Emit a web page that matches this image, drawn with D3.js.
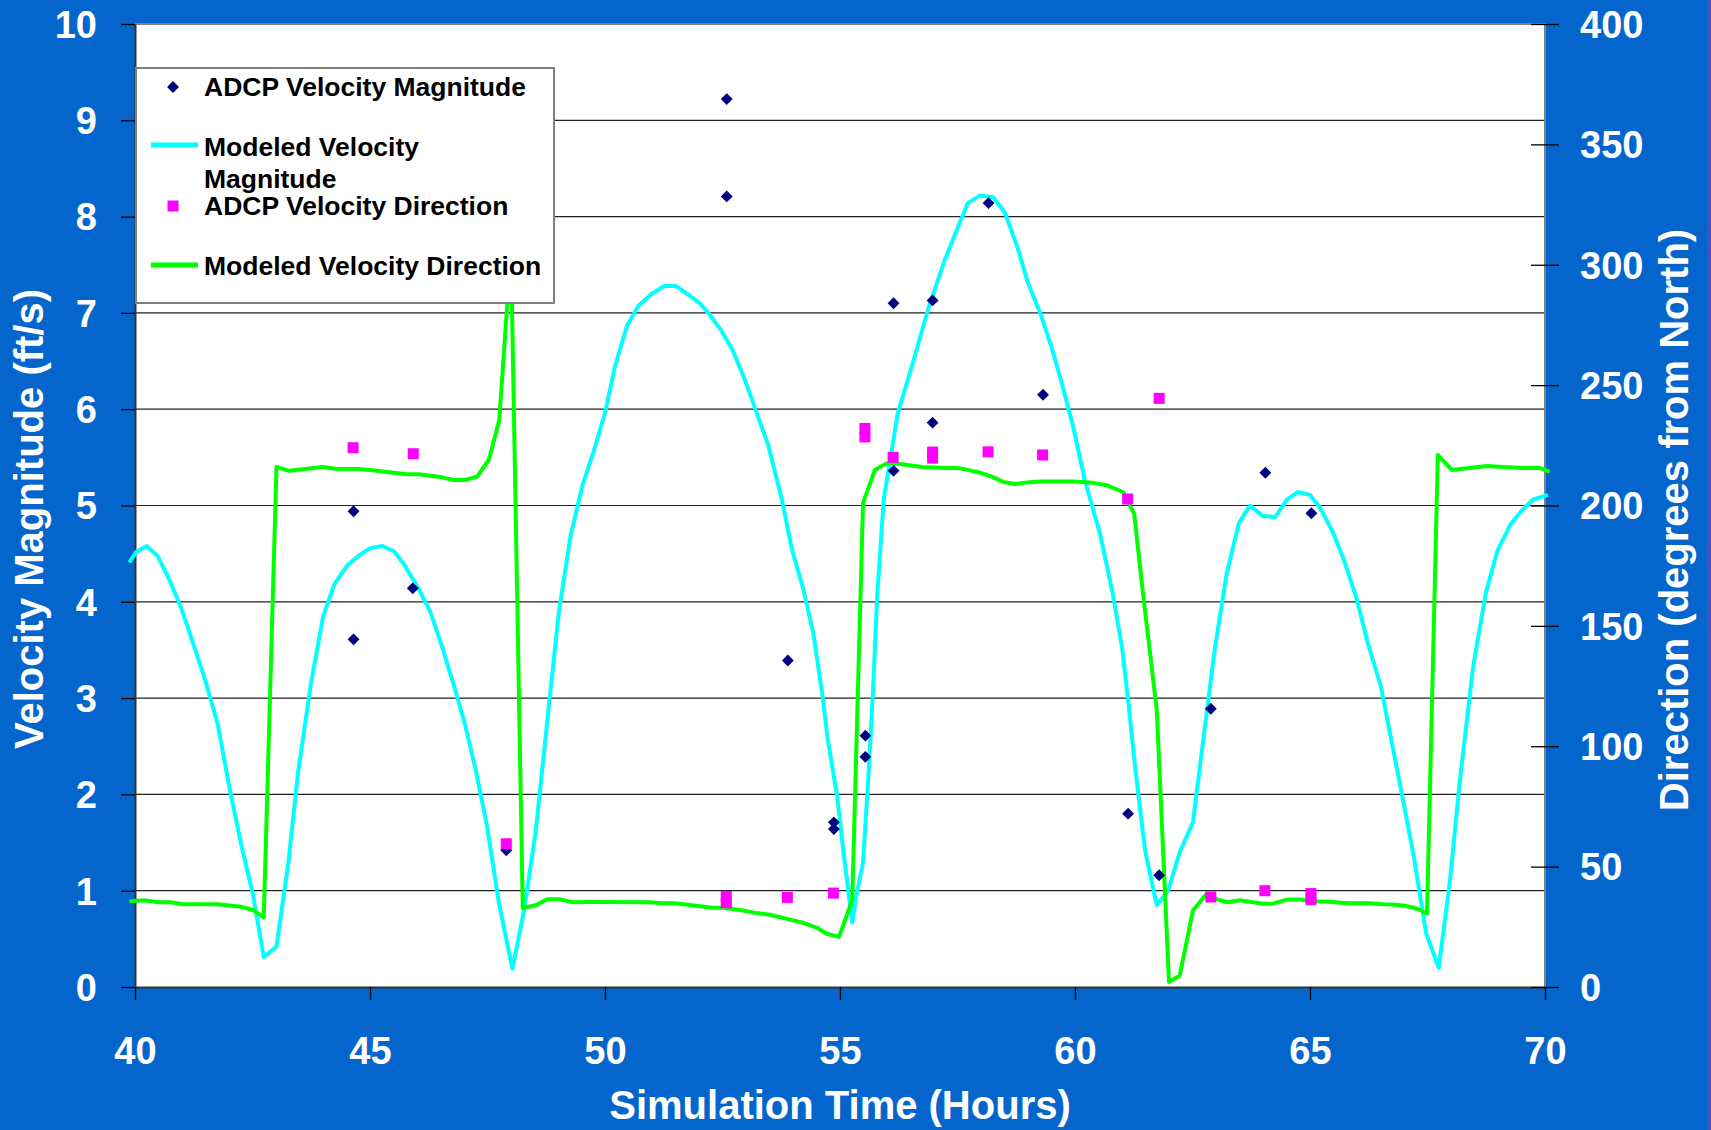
<!DOCTYPE html>
<html>
<head>
<meta charset="utf-8">
<script src="https://d3js.org/d3.v7.min.js"></script>
<style>
  body { margin: 0; background: #0466cc; overflow: hidden; }
  text { font-family: "Liberation Sans", Arial, sans-serif; font-weight: bold; }
</style>
</head>
<body>
<div id="chart"></div>
<script>
// tick values
const hourTicks = [40, 45, 50, 55, 60, 65, 70];
const magTicks = [0, 1, 2, 3, 4, 5, 6, 7, 8, 9, 10];
const dirTicks = [0, 50, 100, 150, 200, 250, 300, 350, 400];

// modeled velocity magnitude [hour, ft/s]
const modelMagnitude = [
  [39.88,4.41],[40.03,4.52],[40.25,4.58],[40.49,4.47],[40.74,4.22],[40.98,3.94],[41.23,3.58],
  [41.51,3.16],[41.76,2.73],[42.01,2.07],[42.26,1.48],[42.51,0.96],[42.74,0.31],[43.01,0.42],
  [43.26,1.28],[43.47,2.23],[43.74,3.14],[44.0,3.84],[44.24,4.18],[44.52,4.38],[44.79,4.49],
  [45.02,4.56],[45.27,4.58],[45.52,4.52],[45.75,4.37],[46.03,4.14],[46.28,3.9],[46.53,3.54],
  [46.78,3.14],[47.02,2.73],[47.26,2.23],[47.49,1.67],[47.74,0.88],[48.03,0.19],[48.28,0.8],
  [48.53,1.63],[48.81,2.94],[49.02,3.9],[49.27,4.69],[49.52,5.21],[49.75,5.55],[50.0,5.96],
  [50.21,6.44],[50.47,6.87],[50.72,7.08],[51.0,7.2],[51.26,7.28],[51.51,7.28],[51.74,7.2],
  [52.02,7.1],[52.23,6.98],[52.47,6.82],[52.72,6.61],[52.98,6.3],[53.23,5.96],[53.47,5.63],
  [53.75,5.09],[53.98,4.54],[54.21,4.15],[54.43,3.68],[54.62,3.05],[54.74,2.57],[54.94,1.98],
  [55.06,1.46],[55.26,0.67],[55.36,0.98],[55.49,1.29],[55.6,2.15],[55.7,3.05],[55.79,4.05],
  [55.93,5.06],[56.23,5.96],[56.55,6.48],[56.87,7.03],[57.23,7.55],[57.51,7.89],[57.72,8.14],
  [57.98,8.22],[58.26,8.2],[58.51,8.04],[58.77,7.69],[59.0,7.31],[59.26,7.0],[59.51,6.63],
  [59.72,6.27],[59.96,5.82],[60.21,5.26],[60.53,4.71],[60.79,4.12],[61.0,3.53],[61.13,2.98],
  [61.28,2.28],[61.38,1.87],[61.49,1.42],[61.74,0.85],[61.98,1.0],[62.23,1.4],[62.51,1.71],
  [62.72,2.53],[62.98,3.53],[63.23,4.3],[63.49,4.82],[63.72,5.0],[64.0,4.89],[64.26,4.88],
  [64.51,5.06],[64.74,5.14],[65.0,5.11],[65.21,4.98],[65.49,4.72],[65.74,4.41],[66.0,4.02],
  [66.23,3.57],[66.51,3.12],[66.7,2.64],[66.98,1.94],[67.21,1.35],[67.47,0.56],[67.74,0.2],
  [67.98,1.11],[68.19,2.15],[68.47,3.32],[68.74,4.09],[68.98,4.52],[69.26,4.8],[69.51,4.95],
  [69.74,5.06],[70.06,5.11]
];

// modeled velocity direction [hour, degrees]
const modelDirection = [
  [39.88,35.6],[40.19,36.0],[40.51,35.2],[40.76,35.2],[41.01,34.4],[41.76,34.4],[42.26,33.3],
  [42.51,32.0],[42.74,28.9],[43.01,216.0],[43.28,214.4],[44.0,216.0],[44.29,215.2],[44.75,215.2],
  [45.04,214.6],[45.78,213.0],[46.03,213.0],[46.53,211.7],[46.78,210.6],[47.03,210.6],[47.28,212.0],
  [47.53,219.0],[47.75,235.5],[48.0,306.0],[48.25,32.8],[48.53,34.0],[48.78,36.5],[49.02,36.5],
  [49.31,35.2],[49.68,35.3],[50.96,35.2],[51.23,34.8],[51.49,34.8],[52.28,32.9],[52.51,32.9],
  [52.94,31.8],[53.23,30.7],[53.51,30.0],[53.94,28.0],[54.21,26.7],[54.51,24.6],[54.72,22.1],
  [54.98,20.8],[55.26,36.0],[55.49,201.0],[55.74,214.7],[56.0,217.6],[56.28,217.2],[56.74,216.0],
  [57.23,215.6],[57.51,215.6],[57.72,214.8],[57.98,213.6],[58.23,212.0],[58.47,209.8],[58.72,208.9],
  [58.98,209.6],[59.26,210.0],[59.96,210.0],[60.32,209.6],[60.68,208.4],[61.02,205.6],[61.26,196.5],
  [61.45,163.0],[61.74,114.9],[62.0,2.1],[62.23,4.8],[62.51,31.8],[62.79,38.5],[62.98,36.7],
  [63.23,35.2],[63.51,36.0],[64.0,34.6],[64.21,34.6],[64.51,36.3],[64.79,36.3],[65.06,35.6],
  [65.49,35.3],[65.79,34.8],[66.28,34.8],[66.53,34.4],[66.77,34.3],[67.06,33.6],[67.28,32.5],
  [67.49,30.5],[67.72,221.0],[68.02,214.7],[68.77,216.4],[69.11,216.0],[69.53,215.6],[69.89,215.6],
  [70.1,214.0]
];

// ADCP measurements
const adcpMagnitude = [
  [44.65,4.94],[44.65,3.61],[45.91,4.14],[47.9,1.42],[52.59,9.22],[52.59,8.21],[53.89,3.39],
  [54.87,1.71],[54.87,1.64],[55.54,2.61],[55.54,2.39],[56.14,7.1],[56.14,5.36],[56.97,7.13],
  [56.97,5.86],[58.16,8.14],[59.32,6.15],[61.13,1.8],[61.79,1.16],[62.89,2.89],[64.05,5.34],
  [65.03,4.92]
];
const adcpDirection = [
  [44.64,224],[45.92,221.5],[47.9,59.5],[52.58,37.6],[52.58,35],[53.88,37.2],[54.86,39],
  [55.53,232],[55.53,228.5],[56.13,220],[56.97,222.2],[56.97,219.7],[58.15,222.3],[59.31,221],
  [61.12,202.7],[61.79,244.5],[62.89,37.4],[64.04,40],[65.02,38.8],[65.02,36.3]
];

const legendLabels = ["ADCP Velocity Magnitude", "Modeled Velocity Magnitude",
                      "ADCP Velocity Direction", "Modeled Velocity Direction"];

var W = 1711, H = 1130;
var plot = {left: 135, top: 24, right: 1545, bottom: 987};

var svg = d3.select("#chart").append("svg")
  .attr("width", W).attr("height", H);

svg.append("rect").attr("width", W).attr("height", H).attr("fill", "#0466cc");
// thin purple strip on the right edge
svg.append("rect").attr("x", W - 4).attr("width", 4).attr("height", H).attr("fill", "#4a4cc0");

var x = d3.scaleLinear().domain([40, 70]).range([plot.left, plot.right]);
var yMag = d3.scaleLinear().domain([0, 10]).range([plot.bottom, plot.top]);
var yDir = d3.scaleLinear().domain([0, 400]).range([plot.bottom, plot.top]);

// plot area
svg.append("rect")
  .attr("x", plot.left).attr("y", plot.top)
  .attr("width", plot.right - plot.left).attr("height", plot.bottom - plot.top)
  .attr("fill", "#fff");

// gridlines
svg.append("g").selectAll("line")
  .data(magTicks.filter(d => d > 0 && d < 10))
  .enter().append("line")
  .attr("x1", plot.left).attr("x2", plot.right)
  .attr("y1", d => yMag(d)).attr("y2", d => yMag(d))
  .attr("stroke", "#222").attr("stroke-width", 1.2);

// frame top / right
svg.append("path")
  .attr("d", `M${plot.left},${plot.top}H${plot.right}V${plot.bottom}`)
  .attr("fill", "none").attr("stroke", "#808080").attr("stroke-width", 2);

function styleAxis(g) {
  g.selectAll("text").attr("fill", "#fff").style("font-size", "38px")
    .style("font-family", '"Liberation Sans", Arial, sans-serif').style("font-weight", "bold");
  g.selectAll("line").attr("stroke", "#000").attr("stroke-width", 1.3);
  g.select(".domain").attr("stroke", "#333").attr("stroke-width", 2);
}

// left axis
svg.append("g")
  .attr("transform", `translate(${plot.left},0)`)
  .call(d3.axisLeft(yMag).tickValues(magTicks).tickSizeInner(14).tickSizeOuter(0).tickPadding(24))
  .call(styleAxis)
  .selectAll("text").attr("dy", "0.35em");

// bottom axis
svg.append("g")
  .attr("transform", `translate(0,${plot.bottom})`)
  .call(d3.axisBottom(x).tickValues(hourTicks).tickSizeInner(13).tickSizeOuter(0).tickPadding(37))
  .call(styleAxis);

// right axis, ticks cross the frame
var rightAxis = svg.append("g")
  .attr("transform", `translate(${plot.right - 14},0)`)
  .call(d3.axisRight(yDir).tickValues(dirTicks).tickSizeInner(28).tickSizeOuter(0).tickPadding(21))
  .call(styleAxis);
rightAxis.select(".domain").remove();
rightAxis.selectAll("text").attr("dy", "0.35em");

// lines
var line = (yScale) => d3.line().x(d => x(d[0])).y(d => yScale(d[1]));

svg.append("path").datum(modelMagnitude)
  .attr("d", line(yMag))
  .attr("fill", "none").attr("stroke", "#00ffff").attr("stroke-width", 4)
  .attr("stroke-linejoin", "round");

svg.append("path").datum(modelDirection)
  .attr("d", line(yDir))
  .attr("fill", "none").attr("stroke", "#00ff00").attr("stroke-width", 4)
  .attr("stroke-linejoin", "round");

// markers
var diamond = d3.symbol().type(d3.symbolDiamond2).size(90);
svg.append("g").selectAll("path")
  .data(adcpMagnitude).enter().append("path")
  .attr("d", diamond)
  .attr("transform", d => `translate(${x(d[0])},${yMag(d[1])})`)
  .attr("fill", "#000080");

svg.append("g").selectAll("rect")
  .data(adcpDirection).enter().append("rect")
  .attr("x", d => x(d[0]) - 5.5).attr("y", d => yDir(d[1]) - 5.5)
  .attr("width", 11).attr("height", 11)
  .attr("fill", "#ff00ff");

// legend
var lg = svg.append("g");
lg.append("rect")
  .attr("x", 136).attr("y", 68).attr("width", 418).attr("height", 235)
  .attr("fill", "#fff").attr("stroke", "#808080").attr("stroke-width", 2);

lg.append("path").attr("d", diamond)
  .attr("transform", "translate(173,87)").attr("fill", "#000080");
lg.append("line").attr("x1", 151).attr("x2", 198).attr("y1", 145).attr("y2", 145)
  .attr("stroke", "#00ffff").attr("stroke-width", 5);
lg.append("rect").attr("x", 167.5).attr("y", 200.5).attr("width", 11).attr("height", 11)
  .attr("fill", "#ff00ff");
lg.append("line").attr("x1", 151).attr("x2", 198).attr("y1", 265).attr("y2", 265)
  .attr("stroke", "#00ff00").attr("stroke-width", 5);

var legendRows = [
  {t: legendLabels[0], y: 96},
  {t: "Modeled Velocity", y: 156},
  {t: "Magnitude", y: 188},
  {t: legendLabels[2], y: 215},
  {t: legendLabels[3], y: 275}
];
lg.selectAll("text.lbl").data(legendRows).enter().append("text")
  .attr("class", "lbl")
  .attr("x", 204).attr("y", d => d.y)
  .attr("fill", "#000").style("font-size", "26.5px")
  .text(d => d.t);

// axis titles
svg.append("text")
  .attr("transform", "translate(43,519) rotate(-90)")
  .attr("text-anchor", "middle").attr("fill", "#fff").style("font-size", "40px")
  .text("Velocity Magnitude (ft/s)");

svg.append("text")
  .attr("x", 840).attr("y", 1119)
  .attr("text-anchor", "middle").attr("fill", "#fff").style("font-size", "40px")
  .text("Simulation Time (Hours)");

svg.append("text")
  .attr("transform", "translate(1688,520) rotate(-90)")
  .attr("text-anchor", "middle").attr("fill", "#fff").style("font-size", "40px")
  .text("Direction (degrees from North)");
</script>
</body>
</html>
